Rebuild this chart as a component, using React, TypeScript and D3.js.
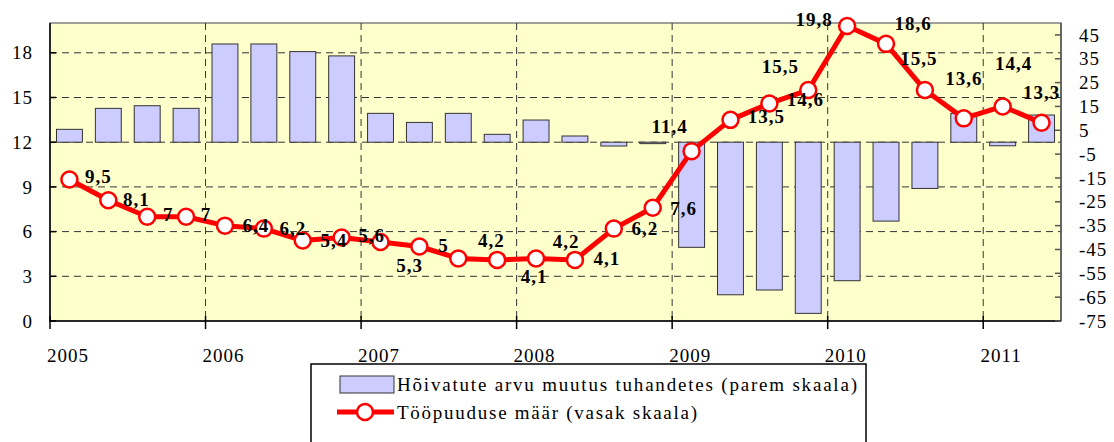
import React from "react";
import * as d3 from "d3";

const quarters = [
  "2005 I", "2005 II", "2005 III", "2005 IV",
  "2006 I", "2006 II", "2006 III", "2006 IV",
  "2007 I", "2007 II", "2007 III", "2007 IV",
  "2008 I", "2008 II", "2008 III", "2008 IV",
  "2009 I", "2009 II", "2009 III", "2009 IV",
  "2010 I", "2010 II", "2010 III", "2010 IV",
  "2011 I", "2011 II",
];
const years = ["2005", "2006", "2007", "2008", "2009", "2010", "2011"];

// Töötuse määr, % (vasak skaala)
const unemploymentRate = [
  9.5, 8.1, 7.0, 7.0, 6.4, 6.2, 5.4, 5.6, 5.3, 5.0, 4.2, 4.1, 4.2, 4.1,
  6.2, 7.6, 11.4, 13.5, 14.6, 15.5, 19.8, 18.6, 15.5, 13.6, 14.4, 13.3,
];
// Hõivatute arvu muutus, tuhat (parem skaala)
const employmentChange = [
  5.4, 14.2, 15.3, 14.2, 41.2, 41.2, 38.0, 36.2, 12.1, 8.3, 12.1, 3.3, 9.3,
  2.6, -1.6, -0.6, -44.1, -64.0, -62.0, -71.8, -58.1, -33.1, -19.4, 12.1,
  -1.5, 11.4,
];

const leftTicks = [0, 3, 6, 9, 12, 15, 18];
const rightTicks = [-75, -65, -55, -45, -35, -25, -15, -5, 5, 15, 25, 35, 45];
const seriesNames = [
  "Hõivatute arvu muutus tuhandetes (parem skaala)",
  "Tööpuuduse määr (vasak skaala)",
];

// label placement relative to each point: [dx to text centre, dy to baseline]
const labelOffsets: [number, number][] = [
  [29, 4], [28, 6], [21, 4], [20, 4], [31, 6], [29, 6], [31, 6], [30, 4],
  [29, 30], [24, 5], [33, -11], [37, 23], [30, -10], [32, 5], [31, 6],
  [31, 7], [-22, -18], [36, 3], [36, 3], [-28, -17], [-33, 0], [27, -14],
  [-6, -25], [0, -33], [11, -36], [0, -24],
];

const W = 1114;
const H = 442;
const M = { left: 50, right: 1061, top: 23, bottom: 321 };
const FONT = "Liberation Serif, Times New Roman, DejaVu Serif, serif";

export default function App() {
  const x = d3
    .scaleBand<string>()
    .domain(quarters)
    .range([M.left, M.right])
    .paddingInner(1 / 3)
    .paddingOuter(1 / 6);
  const step = x.step();
  const cx = (q: string) => (x(q) as number) + x.bandwidth() / 2;
  const boundary = (i: number) => M.left + i * step;

  const yL = d3.scaleLinear().domain([0, 20]).range([M.bottom, M.top]);
  const yR = d3.scaleLinear().domain([-75, 50]).range([M.bottom, M.top]);

  const line = d3
    .line<number>()
    .x((_, i) => cx(quarters[i]))
    .y((d) => yL(d));

  const fmt = (v: number) => String(v).replace(".", ",");
  const dash = "7,5";

  const legendX = 311;
  const legendY = 364;

  return (
    <svg
      width={W}
      height={H}
      style={{ position: "absolute", left: 0, top: 0, display: "block", background: "#fff", fontFamily: FONT }}
    >
      {/* plot background */}
      <rect
        x={M.left}
        y={M.top}
        width={M.right - M.left}
        height={M.bottom - M.top}
        fill="#FFFFCC"
        stroke="#808080"
        strokeWidth={1.5}
      />

      {/* horizontal gridlines */}
      {leftTicks
        .filter((t) => t > 0)
        .map((t) => (
          <line
            key={"hg" + t}
            x1={M.left}
            x2={M.right}
            y1={yL(t)}
            y2={yL(t)}
            stroke="#333"
            strokeWidth={1}
            strokeDasharray={dash}
          />
        ))}
      {/* vertical gridlines at year boundaries */}
      {years.slice(1).map((yr, i) => (
        <line
          key={"vg" + yr}
          x1={boundary((i + 1) * 4)}
          x2={boundary((i + 1) * 4)}
          y1={M.top}
          y2={M.bottom}
          stroke="#333"
          strokeWidth={1}
          strokeDasharray={dash}
        />
      ))}

      {/* bars */}
      {employmentChange.map((v, i) => (
        <rect
          key={"b" + i}
          x={x(quarters[i])}
          width={x.bandwidth()}
          y={Math.min(yR(v), yR(0))}
          height={Math.abs(yR(v) - yR(0))}
          fill="#CCCCFF"
          stroke="#333"
          strokeWidth={1}
        />
      ))}

      {/* axes */}
      <line x1={M.left} x2={M.left} y1={M.top} y2={M.bottom} stroke="#000" strokeWidth={1.5} />
      <line x1={M.right} x2={M.right} y1={M.top} y2={M.bottom} stroke="#555" strokeWidth={1.5} />
      <line x1={M.left} x2={M.right} y1={M.bottom} y2={M.bottom} stroke="#000" strokeWidth={1.5} />

      {leftTicks.map((t) => (
        <g key={"lt" + t}>
          <line x1={M.left} x2={M.left + 6} y1={yL(t)} y2={yL(t)} stroke="#000" strokeWidth={1.5} />
          <text
            x={33}
            y={yL(t)}
            dy="0.35em"
            textAnchor="end"
            fontSize={19}
            letterSpacing={1}
            fill="#000"
          >
            {t}
          </text>
        </g>
      ))}
      {rightTicks.map((t) => (
        <g key={"rt" + t}>
          <line x1={M.right - 6} x2={M.right} y1={yR(t)} y2={yR(t)} stroke="#555" strokeWidth={1.5} />
          <text
            x={1079}
            y={yR(t)}
            dy="0.35em"
            textAnchor="start"
            fontSize={19}
            letterSpacing={1}
            fill="#000"
          >
            {t < 0 ? "-" + Math.abs(t) : t}
          </text>
        </g>
      ))}
      {years.map((yr, i) => (
        <g key={"yt" + yr}>
          <line
            x1={boundary(i * 4)}
            x2={boundary(i * 4)}
            y1={M.bottom - 5}
            y2={M.bottom + 8}
            stroke="#000"
            strokeWidth={1.5}
          />
          <text
            x={boundary(i * 4) + 18}
            y={362}
            textAnchor="middle"
            fontSize={19}
            letterSpacing={1}
            fill="#000"
          >
            {yr}
          </text>
        </g>
      ))}

      {/* unemployment line */}
      <path d={line(unemploymentRate) || ""} fill="none" stroke="#FF0000" strokeWidth={5} strokeLinejoin="round" />
      {unemploymentRate.map((v, i) => (
        <circle
          key={"m" + i}
          cx={cx(quarters[i])}
          cy={yL(v)}
          r={8}
          fill="#fff"
          stroke="#FF0000"
          strokeWidth={2.5}
        />
      ))}
      {unemploymentRate.map((v, i) => (
        <text
          key={"lb" + i}
          x={cx(quarters[i]) + labelOffsets[i][0]}
          y={yL(v) + labelOffsets[i][1]}
          textAnchor="middle"
          fontSize={19}
          fontWeight="bold"
          letterSpacing={1}
          fill="#000"
        >
          {fmt(v)}
        </text>
      ))}

      {/* legend */}
      <rect x={legendX} y={legendY} width={555} height={H - legendY + 5} fill="#fff" stroke="#000" strokeWidth={1.5} />
      <rect x={legendX + 29} y={legendY + 12} width={54} height={17} fill="#CCCCFF" stroke="#333" strokeWidth={1} />
      <text x={legendX + 86} y={legendY + 27} fontSize={19} textLength={460} lengthAdjust="spacing" fill="#000">
        {seriesNames[0]}
      </text>
      <line x1={legendX + 26} x2={legendX + 83} y1={legendY + 48} y2={legendY + 48} stroke="#FF0000" strokeWidth={5} />
      <circle cx={legendX + 54} cy={legendY + 48} r={8} fill="#fff" stroke="#FF0000" strokeWidth={2.5} />
      <text x={legendX + 86} y={legendY + 55} fontSize={19} textLength={300} lengthAdjust="spacing" fill="#000">
        {seriesNames[1]}
      </text>
    </svg>
  );
}
